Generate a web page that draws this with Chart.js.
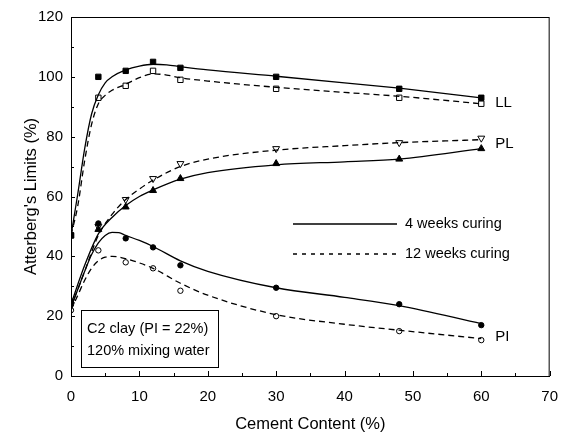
<!DOCTYPE html>
<html>
<head>
<meta charset="utf-8">
<script src="https://cdn.jsdelivr.net/npm/chart.js@4/dist/chart.umd.min.js"></script>
<style>
  html, body { margin: 0; padding: 0; background: #fff; }
  #wrap { width: 570px; height: 435px; }
</style>
</head>
<body>
<div id="wrap"><canvas id="limitsChart" width="570" height="435"></canvas></div>
<script>
// measured points (cement content %)
const cement = [0, 4, 8, 12, 16, 30, 48, 60];
const ll4 = [47, 100, 102, 105, 103, 100, 96, 93];
const ll12 = [47, 93, 97, 102, 99, 96, 93, 91];
const pl4 = [25, 49, 56.5, 62, 66, 71, 72.5, 76];
const pl12 = [25, 50, 59, 66, 71, 76, 78, 79.5];
const pi4 = [24, 51, 46, 43, 37, 29.5, 24, 17];
const pi12 = [22, 42, 38, 36, 28.5, 20, 15, 12];

// fitted curves
const llCurveX = [0, 1, 2, 3, 4, 5, 6, 8, 10, 12, 14, 16, 20, 30, 40, 48, 60];
const ll4Curve = [47, 61, 76, 87.5, 94, 98, 100, 102.3, 103.6, 104.2, 104, 103.4, 102.3, 100.2, 98, 96.2, 93];
const ll12Curve = [47, 57, 72, 84, 91, 93.8, 95.5, 97.5, 99.7, 101, 100.6, 99.7, 98.6, 96.5, 94.8, 93.5, 91];
const plCurveX = [0, 2, 4, 6, 8, 10, 12, 16, 20, 30, 40, 48, 60];
const pl4Curve = [24, 37, 47.5, 53, 57, 60, 62.2, 65.8, 68, 70.6, 71.6, 72.5, 76];
const pl12Curve = [23, 35, 47, 54, 59, 62.5, 65.5, 70, 72.5, 75.5, 77, 78, 79];
const piCurveX = [0, 1, 2, 3, 4, 5, 6, 7, 8, 10, 12, 16, 20, 30, 40, 48, 60];
const pi4Curve = [23, 29, 35, 40.5, 44.5, 47, 48, 47.9, 47, 45.3, 43.3, 38.5, 35, 29.5, 26.3, 23.5, 17.5];
const pi12Curve = [22, 27, 32, 36, 38.5, 39.7, 40, 39.8, 39.2, 37.8, 36, 31, 27, 20.5, 17.3, 15.3, 12.5];

const xTicks = [0, 10, 20, 30, 40, 50, 60, 70];
const yTicks = [0, 20, 40, 60, 80, 100, 120];

const FONT = "'Liberation Sans', Arial, sans-serif";

function pts(xs, ys) {
  return xs.map((x, i) => ({ x: x, y: ys[i] }));
}

function curve(xs, ys, dashed) {
  return {
    data: pts(xs, ys),
    showLine: true,
    borderColor: '#000',
    borderWidth: 1.3,
    borderDash: dashed ? [6, 4] : [],
    pointRadius: 0,
    cubicInterpolationMode: 'monotone',
    fill: false
  };
}

function marks(ys, style, filled, radius, rotation) {
  return {
    data: pts(cement, ys),
    showLine: false,
    pointStyle: style,
    pointRotation: rotation || 0,
    pointRadius: radius,
    pointBorderWidth: 1,
    pointBorderColor: '#000',
    pointBackgroundColor: filled ? '#000' : '#fff'
  };
}

// inward ticks, frame, legend and annotations
const decorations = {
  id: 'decorations',
  afterDraw(chart) {
    const ctx = chart.ctx;
    const a = chart.chartArea;
    const xs = chart.scales.x;
    const ys = chart.scales.y;
    ctx.save();
    ctx.strokeStyle = '#000';
    ctx.lineWidth = 1;
    ctx.strokeRect(a.left + 0.5, a.top + 0.5, a.right - a.left - 1, a.bottom - a.top);

    ctx.beginPath();
    for (let v = 0; v <= 70; v += 5) {
      const px = Math.round(xs.getPixelForValue(v)) + 0.5;
      const len = v % 10 === 0 ? 5 : 3;
      ctx.moveTo(px, a.bottom);
      ctx.lineTo(px, a.bottom - len);
    }
    for (let v = 0; v <= 120; v += 10) {
      const py = Math.round(ys.getPixelForValue(v)) + 0.5;
      const len = v % 20 === 0 ? 4 : 3;
      ctx.moveTo(a.left, py);
      ctx.lineTo(a.left + len, py);
    }
    ctx.stroke();

    // legend
    ctx.font = '14.5px ' + FONT;
    ctx.fillStyle = '#000';
    ctx.textBaseline = 'middle';
    ctx.textAlign = 'left';
    ctx.lineWidth = 1.3;
    ctx.beginPath();
    ctx.moveTo(293, 224);
    ctx.lineTo(397, 224);
    ctx.stroke();
    ctx.fillText('4 weeks curing', 405, 224);
    ctx.setLineDash([4, 5]);
    ctx.beginPath();
    ctx.moveTo(293, 254);
    ctx.lineTo(397, 254);
    ctx.stroke();
    ctx.setLineDash([]);
    ctx.fillText('12 weeks curing', 405, 254);

    // curve labels
    ctx.font = '15px ' + FONT;
    const lx = xs.getPixelForValue(60) + 14;
    ctx.fillText('LL', lx, ys.getPixelForValue(91.3));
    ctx.fillText('PL', lx, ys.getPixelForValue(77.7));
    ctx.fillText('PI', lx, ys.getPixelForValue(13));

    // annotation box
    ctx.font = '14.5px ' + FONT;
    ctx.lineWidth = 1;
    ctx.fillStyle = '#fff';
    ctx.fillRect(81, 310, 137, 57);
    ctx.strokeRect(81.5, 310.5, 137, 57);
    ctx.fillStyle = '#000';
    ctx.fillText('C2 clay (PI = 22%)', 87, 329);
    ctx.fillText('120% mixing water', 87, 351);
    ctx.restore();
  }
};

const ctx = document.getElementById('limitsChart').getContext('2d');
new Chart(ctx, {
  type: 'scatter',
  data: {
    datasets: [
      curve(llCurveX, ll4Curve, false),
      curve(llCurveX, ll12Curve, true),
      curve(plCurveX, pl4Curve, false),
      curve(plCurveX, pl12Curve, true),
      curve(piCurveX, pi4Curve, false),
      curve(piCurveX, pi12Curve, true),
      marks(ll4, 'rect', true, 3.8),
      marks(pl4, 'triangle', true, 4),
      marks(pi4, 'circle', true, 2.7),
      marks(ll12, 'rect', false, 3.8),
      marks(pl12, 'triangle', false, 4, 180),
      marks(pi12, 'circle', false, 2.7)
    ]
  },
  options: {
    responsive: false,
    animation: false,
    layout: { padding: { left: 0, top: 16, right: 19, bottom: 0 } },
    plugins: {
      legend: { display: false },
      tooltip: { enabled: false }
    },
    scales: {
      x: {
        type: 'linear',
        min: 0,
        max: 70,
        afterBuildTicks(scale) { scale.ticks = xTicks.map(v => ({ value: v })); },
        afterFit(scale) { scale.height = 59; },
        grid: { display: false, drawTicks: false },
        border: { display: true, color: '#000', width: 1 },
        ticks: { color: '#000', padding: 12, font: { family: FONT, size: 15 } },
        title: {
          display: true,
          text: 'Cement Content (%)',
          color: '#000',
          font: { family: FONT, size: 16.5 },
          padding: { top: 0, bottom: 1 }
        }
      },
      y: {
        type: 'linear',
        min: 0,
        max: 120,
        afterBuildTicks(scale) { scale.ticks = yTicks.map(v => ({ value: v })); },
        afterFit(scale) { scale.width = 71; },
        grid: { display: false, drawTicks: false },
        border: { display: true, color: '#000', width: 1 },
        ticks: { color: '#000', padding: 8, font: { family: FONT, size: 15 } },
        title: {
          display: true,
          text: "Atterberg's Limits (%)",
          color: '#000',
          font: { family: FONT, size: 16.5 },
          padding: { top: 22, bottom: 0 }
        }
      }
    }
  },
  plugins: [decorations]
});
</script>
</body>
</html>
